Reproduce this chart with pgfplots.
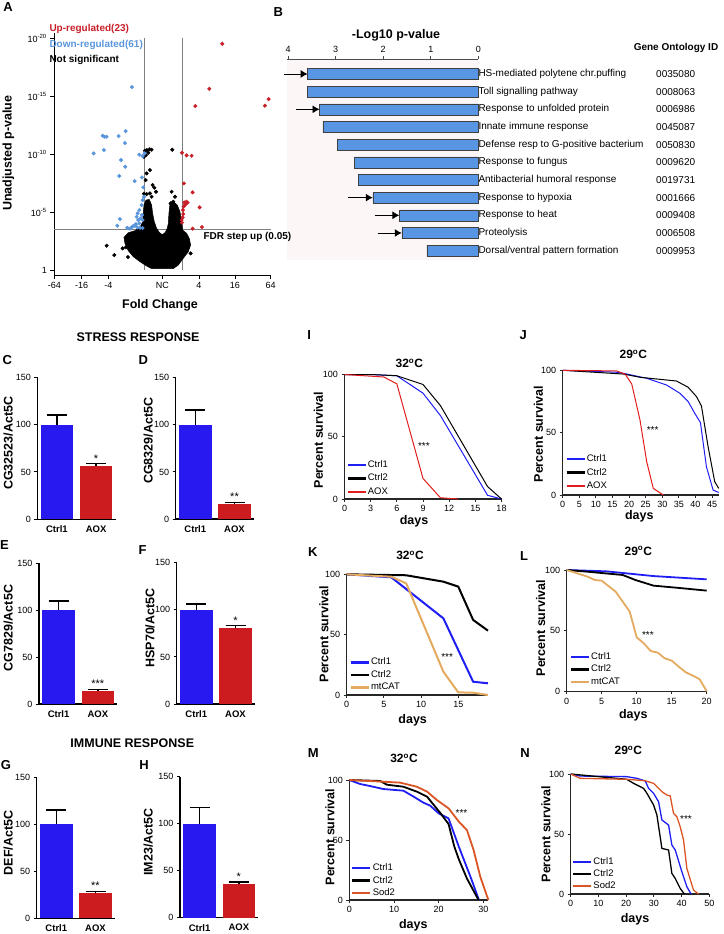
\documentclass[border=0pt]{standalone}
\usepackage{pgfplots}
\pgfplotsset{compat=1.18}
\usepackage{fontspec}
\setmainfont{Liberation Sans}
\usetikzlibrary{arrows.meta}
\newcommand{\fsz}[1]{\fontsize{#1}{#1}\selectfont}
\definecolor{vred}{RGB}{200,32,40}
\definecolor{vblue}{RGB}{90,150,220}
\definecolor{bblue}{RGB}{40,25,240}
\definecolor{bred}{RGB}{205,28,32}
\definecolor{sblue}{RGB}{30,30,245}
\definecolor{sred}{RGB}{225,30,30}
\definecolor{stan}{RGB}{228,170,95}
\definecolor{sorange}{RGB}{218,85,35}
\definecolor{gobar}{RGB}{88,150,228}
\definecolor{pinkbg}{RGB}{253,246,246}
\pgfplotsset{
  /pgf/number format/assume math mode=true,
  barpanel/.style={scale only axis, anchor=south west, width=78.4pt,
    xmin=-0.5, xmax=1.5, ymin=0, ymax=150, ytick={0,50,100,150},
    xtick={0,1}, xticklabels={Ctrl1,AOX},
    axis x line*=bottom, axis y line*=left, axis line style={line width=1.4pt},
    tick align=outside, major tick length=3pt, ytick style={line width=1pt,black}, xtick style={draw=none},
    ybar, bar shift=0pt, bar width=32.5pt,
    xticklabel style={font=\bfseries\fsz{9.5}}, yticklabel style={font=\fsz{9}},
    clip=false,
    error bars/y dir=plus, error bars/y explicit,
    error bars/error bar style={line width=1.5pt, black},
    error bars/error mark options={rotate=90, line width=1.5pt, mark size=10pt, black}},
  survax/.style={scale only axis, anchor=south west, ymin=0, ymax=100, ytick={0,50,100},
    axis x line*=bottom, axis y line*=left, axis line style={line width=1.2pt, black!85},
    tick align=outside, major tick length=3pt, tick style={line width=0.8pt, black!85},
    tick label style={font=\fsz{9}}, clip=false, legend cell align=left,
    legend style={draw=none, fill=none, font=\fsz{9.5}, anchor=north west, inner sep=0pt, row sep=2.5pt,
      nodes={inner sep=1pt, text height=7pt, text depth=2pt}},
    legend image code/.code={\draw[#1, line width=2.6pt] (0pt,0pt) -- (18pt,0pt);}},
}
\tikzset{lab/.style={inner sep=0pt}}
\begin{document}
\begin{tikzpicture}
% ---------------- Panel A ----------------
\begin{axis}[scale only axis, anchor=south west, at={(54.3pt,-275pt)}, width=216.3pt, height=242pt,
  xmin=163, xmax=812, ymin=-0.43, ymax=20.47,
  axis x line*=bottom, axis y line*=left, axis line style={line width=1pt},
  tick align=outside, major tick length=4pt, tick style={line width=0.8pt, black},
  xtick={163,245,325,487,597,705,812}, xticklabels={-64,-16,-4,NC,4,16,64},
  ytick={0,5,10,15,20}, yticklabels={1,10\textsuperscript{-5},10\textsuperscript{-10},10\textsuperscript{-15},10\textsuperscript{-20}},
  tick label style={font=\fsz{9}}, clip=false]
\addplot[black!50, line width=0.6pt] coordinates {(432,0)(432,20)};
\addplot[black!50, line width=0.6pt] coordinates {(546,0)(546,20)};
\addplot[black!50, line width=0.6pt] coordinates {(163,3.54)(812,3.54)};
\addplot[fill=black, draw=black, line width=0.5pt] coordinates {
(455,0.12)(440,0.35)(420,0.72)(400,1.15)(385,1.67)(375,2.30)(372,2.82)(385,3.22)(405,3.40)(420,3.68)
(428,4.17)(430,4.89)(432,5.61)(438,6.04)(448,6.10)(455,5.61)(458,4.89)(463,4.17)(470,3.60)(478,3.25)
(487,3.05)(496,3.25)(502,3.60)(505,4.03)(507,4.89)(510,5.70)(520,5.90)(532,5.61)(540,5.04)
(545,4.17)(548,3.45)(560,3.17)(568,2.73)(572,2.16)(565,1.58)(550,1.01)(535,0.43)(520,0.12)} -- cycle;
\addplot[only marks, mark=*, mark size=1.8pt, black] coordinates {
(435,10.30)(441,10.36)(449,10.42)(455,10.39)(445,10.13)(438,9.93)(432,9.78)(517,10.39)(458,7.34)(463,7.11)
(450,6.62)(440,6.56)(432,6.59)(468,6.76)(455,6.33)(512,5.76)(520,5.90)(530,4.89)(538,3.74)(320,2.10)
(343,1.29)(384,1.12)(368,1.87)(378,1.96)(560,1.87)(572,1.44)(547,2.59)(555,2.16)(437,7.77)(440,8.35)
(450,8.63)(515,6.76)(525,6.33)};
\addplot[only marks, mark=*, mark size=1.8pt, vblue] coordinates {
(396,15.80)(377,12.0)(308,11.60)(314,11.51)(320,11.51)(356,11.57)(375,10.96)(281,10.07)(312,10.36)(418,9.96)
(428,9.84)(434,10.07)(363,9.50)(376,8.92)(358,8.12)(404,7.68)(426,8.0)(430,7.14)(432,6.33)(428,6.04)
(425,5.61)(418,5.18)(413,4.89)(410,4.60)(422,4.46)(428,4.32)(418,4.03)(408,3.97)(360,4.40)(352,3.83)
(382,3.65)(395,3.68)(400,3.80)(405,3.83)(412,3.68)(420,3.65)(428,3.63)(390,3.57)(415,4.32)(426,4.75)};
\addplot[only marks, mark=*, mark size=1.8pt, vred] coordinates {
(667,19.54)(628,15.65)(586,14.16)(806,14.76)(795,14.19)(546,10.13)(560,9.90)(575,9.87)(552,7.48)(578,6.71)
(553,5.84)(560,5.90)(556,5.64)(551,5.47)(549,5.18)(599,5.41)(548,4.55)(546,4.09)(578,3.57)(606,3.71)
(550,4.83)(545,4.32)(563,5.81)};
\end{axis}
\node[lab, font=\bfseries\fsz{13}] at (8pt,-7pt) {A};
\node[lab, font=\bfseries\fsz{10}, text=vred, anchor=west] at (49.3pt,-29.3pt) {Up-regulated(23)};
\node[lab, font=\bfseries\fsz{10}, text=vblue, anchor=west] at (49.3pt,-44.7pt) {Down-regulated(61)};
\node[lab, font=\bfseries\fsz{10}, anchor=west] at (49.3pt,-60pt) {Not significant};
\node[lab, font=\bfseries\fsz{12.5}, rotate=90] at (8.3pt,-153.3pt) {Unadjusted p-value};
\node[lab, font=\bfseries\fsz{12.5}] at (160pt,-305pt) {Fold Change};
% ---------------- Panel B ----------------
\begin{axis}[scale only axis, anchor=south west, at={(286.7pt,-260pt)}, width=191.6pt, height=200.7pt,
  x dir=reverse, xmin=0, xmax=4.03, y dir=reverse, ymin=0.17, ymax=11.53,
  axis x line*=top, axis y line*=right, y axis line style={draw=none}, x axis line style={line width=0.6pt, black!70},
  axis background/.style={fill=pinkbg},
  xtick={0,1,2,3,4}, tick align=outside, major tick length=3pt,
  xtick style={black!70, line width=0.6pt}, ytick style={draw=none},
  ytick={1,2,3,4,5,6,7,8,9,10,11},
  yticklabels={HS-mediated polytene chr.puffing,Toll signalling pathway,Response to unfolded protein,Innate immune response,Defense resp to G-positive bacterium,Response to fungus,Antibacterial humoral response,Response to hypoxia,Response to heat,Proteolysis,Dorsal/ventral pattern formation},
  yticklabel style={font=\fsz{10}, anchor=west, inner sep=0pt, xshift=-3pt},
  xticklabel style={font=\fsz{9}}, bar width=11pt, clip=false]
\addplot[xbar, fill=gobar, draw=black!75, line width=0.5pt] coordinates {
(3.59,1)(3.59,2)(3.34,3)(3.27,4)(2.97,5)(2.60,6)(2.52,7)(2.22,8)(1.66,9)(1.61,10)(1.08,11)};
\addplot[-{Latex[length=7pt,width=8pt]}, line width=0.9pt] coordinates {(4.08,1)(3.59,1)};
\addplot[-{Latex[length=7pt,width=8pt]}, line width=0.9pt] coordinates {(3.84,3)(3.34,3)};
\addplot[-{Latex[length=7pt,width=8pt]}, line width=0.9pt] coordinates {(2.74,8)(2.22,8)};
\addplot[-{Latex[length=7pt,width=8pt]}, line width=0.9pt] coordinates {(2.17,9)(1.66,9)};
\addplot[-{Latex[length=7pt,width=8pt]}, line width=0.9pt] coordinates {(2.12,10)(1.61,10)};
\node[lab, anchor=west, xshift=177.7pt, font=\fsz{10}] at (axis cs:0,1) {0035080};
\node[lab, anchor=west, xshift=177.7pt, font=\fsz{10}] at (axis cs:0,2) {0008063};
\node[lab, anchor=west, xshift=177.7pt, font=\fsz{10}] at (axis cs:0,3) {0006986};
\node[lab, anchor=west, xshift=177.7pt, font=\fsz{10}] at (axis cs:0,4) {0045087};
\node[lab, anchor=west, xshift=177.7pt, font=\fsz{10}] at (axis cs:0,5) {0050830};
\node[lab, anchor=west, xshift=177.7pt, font=\fsz{10}] at (axis cs:0,6) {0009620};
\node[lab, anchor=west, xshift=177.7pt, font=\fsz{10}] at (axis cs:0,7) {0019731};
\node[lab, anchor=west, xshift=177.7pt, font=\fsz{10}] at (axis cs:0,8) {0001666};
\node[lab, anchor=west, xshift=177.7pt, font=\fsz{10}] at (axis cs:0,9) {0009408};
\node[lab, anchor=west, xshift=177.7pt, font=\fsz{10}] at (axis cs:0,10) {0006508};
\node[lab, anchor=west, xshift=177.7pt, font=\fsz{10}] at (axis cs:0,11) {0009953};
\end{axis}
\node[lab, font=\bfseries\fsz{10}, anchor=west] at (203.3pt,-237.3pt) {FDR step up (0.05)};
\node[lab, font=\bfseries\fsz{13}] at (278.3pt,-11.7pt) {B};
\node[lab, font=\bfseries\fsz{12.5}] at (396pt,-35pt) {-Log10 p-value};
\node[lab, font=\bfseries\fsz{10}] at (676pt,-48.3pt) {Gene Ontology ID};
% ---------------- Panels C-H ----------------
\begin{axis}[barpanel, at={(37.3pt,-519.3pt)}, height=142pt]
\addplot[fill=bblue, draw=none] coordinates {(0,100) +- (0,10)};
\addplot[fill=bred, draw=none] coordinates {(1,56.3) +- (0,2.7)};
\node[lab, font=\fsz{11}, anchor=south] at (axis cs:1,60) {*};
\end{axis}
\begin{axis}[barpanel, at={(175.7pt,-519pt)}, height=141.3pt]
\addplot[fill=bblue, draw=none] coordinates {(0,100) +- (0,15.6)};
\addplot[fill=bred, draw=none] coordinates {(1,15.5) +- (0,2.2)};
\node[lab, font=\fsz{11}, anchor=south] at (axis cs:1,19) {**};
\end{axis}
\begin{axis}[barpanel, at={(39pt,-704pt)}, height=140.7pt]
\addplot[fill=bblue, draw=none] coordinates {(0,100) +- (0,9.6)};
\addplot[fill=bred, draw=none] coordinates {(1,14.2) +- (0,1.4)};
\node[lab, font=\fsz{11}, anchor=south] at (axis cs:1,17) {***};
\end{axis}
\begin{axis}[barpanel, at={(176.7pt,-704pt)}, height=141.3pt]
\addplot[fill=bblue, draw=none] coordinates {(0,100) +- (0,6)};
\addplot[fill=bred, draw=none] coordinates {(1,80.9) +- (0,2.4)};
\node[lab, font=\fsz{11}, anchor=south] at (axis cs:1,84.5) {*};
\end{axis}
\begin{axis}[barpanel, at={(36.7pt,-918.3pt)}, height=141pt]
\addplot[fill=bblue, draw=none] coordinates {(0,100) +- (0,15.2)};
\addplot[fill=bred, draw=none] coordinates {(1,26.6) +- (0,2.1)};
\node[lab, font=\fsz{11}, anchor=south] at (axis cs:1,30) {**};
\end{axis}
\begin{axis}[barpanel, at={(180pt,-917.7pt)}, height=141pt]
\addplot[fill=bblue, draw=none] coordinates {(0,100) +- (0,17.4)};
\addplot[fill=bred, draw=none] coordinates {(1,35.8) +- (0,2.2)};
\node[lab, font=\fsz{11}, anchor=south] at (axis cs:1,39.5) {*};
\end{axis}
\node[lab, font=\bfseries\fsz{12.5}] at (138pt,-336.7pt) {STRESS RESPONSE};
\node[lab, font=\bfseries\fsz{12.5}] at (132.3pt,-742.7pt) {IMMUNE RESPONSE};
\node[lab, font=\bfseries\fsz{13}] at (7.3pt,-360pt) {C};
\node[lab, font=\bfseries\fsz{13}] at (143.3pt,-360pt) {D};
\node[lab, font=\bfseries\fsz{13}] at (4.5pt,-545pt) {E};
\node[lab, font=\bfseries\fsz{13}] at (142.7pt,-550pt) {F};
\node[lab, font=\bfseries\fsz{13}] at (6pt,-765pt) {G};
\node[lab, font=\bfseries\fsz{13}] at (144pt,-765pt) {H};
\node[lab, font=\bfseries\fsz{12.5}, rotate=90] at (8.3pt,-443.3pt) {CG32523/Act5C};
\node[lab, font=\bfseries\fsz{12.5}, rotate=90] at (148.3pt,-440.7pt) {CG8329/Act5C};
\node[lab, font=\bfseries\fsz{12.5}, rotate=90] at (8.3pt,-628pt) {CG7829/Act5C};
\node[lab, font=\bfseries\fsz{12.5}, rotate=90] at (150pt,-628pt) {HSP70/Act5C};
\node[lab, font=\bfseries\fsz{12.5}, rotate=90] at (8.3pt,-843pt) {DEF/Act5C};
\node[lab, font=\bfseries\fsz{12.5}, rotate=90] at (148.3pt,-842pt) {IM23/Act5C};
% ---------------- Panel I ----------------
\begin{axis}[survax, at={(344.5pt,-499pt)}, width=157pt, height=124.5pt, xmin=0, xmax=18, xtick={0,3,...,18},
  legend style={at={(0.01,0.32)}}]
\addplot[sblue, line width=1pt] coordinates {(0,100)(3,100)(6,99)(9,85)(11,67)(16.4,3)(18,0)};
\addplot[black, line width=1pt] coordinates {(0,100)(3,100)(6,99)(9,92)(11,75)(16.4,10)(18,0)};
\addplot[sred, line width=1pt] coordinates {(0,100)(4.5,98)(6,92.5)(9,16.5)(11,1)(13,0)};
\legend{Ctrl1,Ctrl2,AOX}
\node[lab, font=\fsz{10}, yshift=-2pt] at (axis cs:9.1,43.9) {***};
\end{axis}
% ---------------- Panel J ----------------
\begin{axis}[survax, at={(562.7pt,-495pt)}, width=156pt, height=124.7pt, xmin=0, xmax=47, xtick={0,5,...,45},
  legend style={at={(0.015,0.334)}}]
\addplot[sblue, line width=1pt] coordinates {(0,100)(16,98.5)(18.3,97.6)(25.3,93.6)(31.3,88.2)(35.3,81.6)(37.8,74.9)(39.8,65.5)(41.5,58)(43.3,22.7)(45.3,4)(47,2)};
\addplot[black, line width=1pt] coordinates {(0,100)(18.3,97)(23.3,94.4)(34.3,91.4)(37.8,86.4)(40.3,78.9)(41.8,71.4)(43.8,38.8)(45.8,10.7)(47,5.3)};
\addplot[sred, line width=1pt] coordinates {(0,100)(16.2,99.5)(18.8,97)(20.8,89)(23.3,60)(25.3,26.7)(27.3,5.3)(30.3,0)};
\legend{Ctrl1,Ctrl2,AOX}
\node[lab, font=\fsz{10}, yshift=-2pt] at (axis cs:27.1,54) {***};
\end{axis}
% ---------------- Panel K ----------------
\begin{axis}[survax, at={(346.7pt,-695pt)}, width=141.3pt, height=120.7pt, xmin=0, xmax=19, xtick={0,5,10,15},
  legend style={at={(0.018,0.317)}, row sep=1.5pt}]
\addplot[sblue, line width=2pt] coordinates {(0,100)(6,97.5)(13,63.5)(17,11)(19,9.7)};
\addplot[black, line width=2pt] coordinates {(0,100)(8,99.2)(13,93.9)(15,89.8)(17,62.2)(19,53.3)};
\addplot[stan, line width=2pt] coordinates {(0,100)(6,98)(8,92.5)(13,19.3)(15,2.2)(17,1.9)(19,0)};
\legend{Ctrl1,Ctrl2,mtCAT}
\node[lab, font=\fsz{10}, yshift=-2pt] at (axis cs:13.5,33.1) {***};
\end{axis}
% ---------------- Panel L ----------------
\begin{axis}[survax, at={(566.7pt,-691.3pt)}, width=140pt, height=121.3pt, xmin=0, xmax=20, xtick={0,5,...,20},
  legend style={at={(0.019,0.33)}, row sep=1.5pt}]
\addplot[sblue, line width=1.8pt] coordinates {(0,100)(5.7,98.9)(12.4,95)(20,92.3)};
\addplot[black, line width=1.8pt] coordinates {(0,100)(3,98.6)(8,95.9)(9.8,91.8)(12.4,87.1)(15.7,85.4)(20,83)};
\addplot[stan, line width=1.8pt] coordinates {(0,100)(3,94.5)(4,91.8)(5,91.2)(7,82.1)(9,65.7)(10,44.5)(11,39.6)(12,33.2)(13,31.9)(14,27.2)(15,25.3)(16,20.3)(17,15.7)(18.3,12.1)(19,9.9)(20,0)};
\legend{Ctrl1,Ctrl2,mtCAT}
\node[lab, font=\fsz{10}, yshift=-2pt] at (axis cs:11.6,48.3) {***};
\end{axis}
% ---------------- Panel M ----------------
\begin{axis}[survax, at={(349.3pt,-900pt)}, width=138.6pt, height=120pt, xmin=0, xmax=31, xtick={0,10,20,30},
  legend style={at={(0.012,0.314)}, row sep=1.5pt}]
\addplot[sblue, line width=1.8pt] coordinates {(0,100)(2.4,96.7)(4.6,95)(7.6,92.5)(12.1,91.1)(14.4,86.1)(16.6,81.1)(18.1,78.6)(20,72.2)(22.2,68)(24.5,44.4)(27.1,19.4)(29,0)};
\addplot[black, line width=1.8pt] coordinates {(0,100)(6.9,99.2)(8.4,96.1)(12.1,94.4)(15.1,90.3)(17.4,86.1)(19.2,77.8)(20.3,72.8)(22.2,63.3)(23.5,44.4)(24.5,33.9)(26.3,18)(28.9,0)};
\addplot[sorange, line width=1.8pt] coordinates {(0,100)(7.6,98.6)(11.4,97.8)(15.1,94.4)(17.4,90.3)(19.6,83.3)(22.2,76.4)(24.5,65.3)(26.3,58.3)(27.8,41.7)(29.3,19.4)(31.1,0)};
\legend{Ctrl1,Ctrl2,Sod2}
\node[lab, font=\fsz{10}, yshift=-2pt] at (axis cs:25.1,74.2) {***};
\end{axis}
% ---------------- Panel N ----------------
\begin{axis}[survax, at={(570.7pt,-894pt)}, width=138.6pt, height=120pt, xmin=0, xmax=50, xtick={0,10,...,50},
  legend style={at={(0.007,0.314)}, row sep=1pt}]
\addplot[sblue, line width=1.3pt] coordinates {(0,100)(3.4,98.3)(20.2,97.8)(23.9,96.4)(26.9,94.2)(28.1,88)(29.9,83.9)(31.7,76.9)(32.9,61.7)(35.3,57.5)(36.5,40.8)(37.7,36.7)(40.1,18.6)(41.9,6.1)(43.4,0)};
\addplot[black, line width=1.3pt] coordinates {(0,100)(20.2,95.6)(22.7,92.2)(26.3,88)(27.5,83.9)(29.9,74.2)(31.1,65.8)(32.9,38)(35.3,36.7)(36.5,17.2)(37.7,13)(39.5,4.7)(41,0)};
\addplot[sorange, line width=1.3pt] coordinates {(0,100)(3.4,96.4)(20.2,95.6)(26.9,94.4)(29.9,92.2)(32.9,85.3)(34.7,82.5)(35.9,81.7)(37.1,67.2)(38.3,64.4)(39.5,56.1)(40.7,45)(41.9,21.4)(44.3,3.3)(46.1,0)};
\legend{Ctrl1,Ctrl2,Sod2}
\node[lab, font=\fsz{10}, yshift=-2pt] at (axis cs:41.6,64.4) {***};
\end{axis}
% survival labels
\node[lab, font=\bfseries\fsz{13}] at (309.3pt,-335pt) {I};
\node[lab, font=\bfseries\fsz{13}] at (523.3pt,-335pt) {J};
\node[lab, font=\bfseries\fsz{13}] at (312.7pt,-551.7pt) {K};
\node[lab, font=\bfseries\fsz{13}] at (524pt,-556pt) {L};
\node[lab, font=\bfseries\fsz{13}] at (313.3pt,-752.7pt) {M};
\node[lab, font=\bfseries\fsz{13}] at (525pt,-752.7pt) {N};
\node[lab, font=\bfseries\fsz{12}] at (409.3pt,-363.3pt) {32\textsuperscript{o}C};
\node[lab, font=\bfseries\fsz{12}] at (633.3pt,-354.3pt) {29\textsuperscript{o}C};
\node[lab, font=\bfseries\fsz{12}] at (410pt,-555.7pt) {32\textsuperscript{o}C};
\node[lab, font=\bfseries\fsz{12}] at (638.3pt,-551pt) {29\textsuperscript{o}C};
\node[lab, font=\bfseries\fsz{12}] at (404pt,-758.3pt) {32\textsuperscript{o}C};
\node[lab, font=\bfseries\fsz{12}] at (628.3pt,-750.7pt) {29\textsuperscript{o}C};
\node[lab, font=\bfseries\fsz{12.5}, rotate=90] at (318.3pt,-440pt) {Percent survival};
\node[lab, font=\bfseries\fsz{12.5}, rotate=90] at (538.3pt,-434pt) {Percent survival};
\node[lab, font=\bfseries\fsz{12.5}, rotate=90] at (324pt,-634pt) {Percent survival};
\node[lab, font=\bfseries\fsz{12.5}, rotate=90] at (540.7pt,-628pt) {Percent survival};
\node[lab, font=\bfseries\fsz{12.5}, rotate=90] at (330pt,-837pt) {Percent survival};
\node[lab, font=\bfseries\fsz{12.5}, rotate=90] at (546pt,-834pt) {Percent survival};
\node[lab, font=\bfseries\fsz{12.5}] at (414pt,-521.7pt) {days};
\node[lab, font=\bfseries\fsz{12.5}] at (639.3pt,-516.7pt) {days};
\node[lab, font=\bfseries\fsz{12.5}] at (412.7pt,-720pt) {days};
\node[lab, font=\bfseries\fsz{12.5}] at (633.3pt,-715pt) {days};
\node[lab, font=\bfseries\fsz{12.5}] at (413.3pt,-925pt) {days};
\node[lab, font=\bfseries\fsz{12.5}] at (635pt,-919pt) {days};
\pgfresetboundingbox
\path[use as bounding box] (0pt,0pt) rectangle (723pt,-934pt);
\end{tikzpicture}
\end{document}
